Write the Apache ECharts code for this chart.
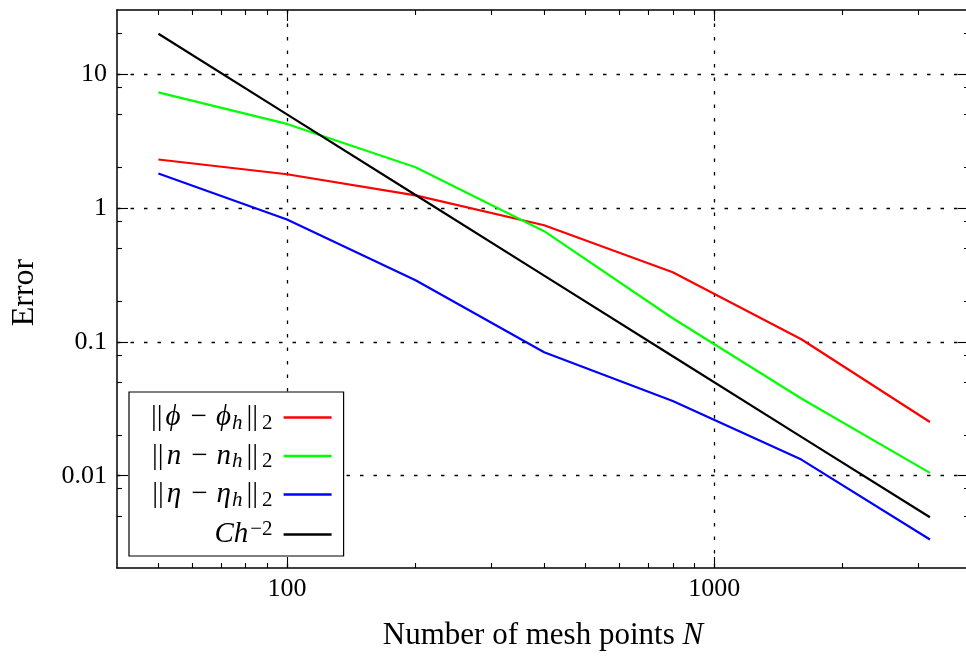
<!DOCTYPE html>
<html>
<head>
<meta charset="utf-8">
<script src="https://cdn.jsdelivr.net/npm/echarts@6/dist/echarts.min.js"></script>
<style>html,body{margin:0;padding:0;background:#fff;overflow:hidden;}#c{width:966px;height:657px;}</style>
</head>
<body>
<div id="c"></div>
<script>
// ---- data ----
const meshPoints = [50, 100, 200, 400, 800, 1600, 3200];
const errPhi  = [2.30, 1.785, 1.24, 0.743, 0.331, 0.1045, 0.0252];
const errN    = [7.30, 4.24, 2.01, 0.67, 0.150, 0.0377, 0.0105];
const errEta  = [1.81, 0.819, 0.288, 0.0836, 0.0362, 0.0132, 0.00334];
const refCh2  = [20, 5, 1.25, 0.3125, 0.078, 0.0195, 0.0049];
const seriesNames = ['phi', 'n', 'eta', 'ref'];
const xMajorTicks = [100, 1000];
const xMinorTicks = [50, 60, 70, 80, 90, 200, 300, 400, 500, 600, 700, 800, 900, 2000, 3000];
const yMajorTicks = [0.01, 0.1, 1, 10];
const yMinorTicks = [0.005, 0.008, 0.02, 0.05, 0.08, 0.2, 0.5, 0.8, 2, 5, 8, 20];
const xRange = [40, 3950];
const yRange = [0.002046, 30.07];

const FONT = 'Liberation Serif, DejaVu Serif, serif';
const legendLabels = {
  phi: '{b|||}{i|ϕ}{op|−}{i|ϕ}{si|h}{b|||}{s|2}',
  n:   '{b|||}{i|n}{op|−}{i|n}{si|h}{b|||}{s|2}',
  eta: '{b|||}{i|η}{op|−}{i|η}{si|h}{b|||}{s|2}',
  ref: '{i|Ch}{sup|−2}'
};
const rich = {
  t:   {fontFamily: FONT, fontSize: 31, lineHeight: 34, color: '#000'},
  ti:  {fontFamily: FONT, fontSize: 31, lineHeight: 34, fontStyle: 'italic', color: '#000'},
  b:   {fontFamily: FONT, fontSize: 29, lineHeight: 32, color: '#000', padding: [0, 3, 0, 3]},
  op:  {fontFamily: FONT, fontSize: 29, lineHeight: 32, color: '#000', padding: [0, 9, 0, 9]},
  i:   {fontFamily: FONT, fontSize: 29, lineHeight: 32, fontStyle: 'italic', color: '#000', padding: [0, 1, 0, 0]},
  si:  {fontFamily: FONT, fontSize: 21, lineHeight: 14, fontStyle: 'italic', verticalAlign: 'bottom', color: '#000', padding: [0, 1, 0, 0]},
  s:   {fontFamily: FONT, fontSize: 21, lineHeight: 14, verticalAlign: 'bottom', color: '#000', padding: [0, 6, 0, 1]},
  sup: {fontFamily: FONT, fontSize: 21, lineHeight: 14, verticalAlign: 'top', color: '#000', padding: [0, 6, 0, 1]}
};

function pairs(ys) { return meshPoints.map((x, k) => [x, ys[k]]); }

const gridLine = {show: true, lineStyle: {color: '#000', width: 1.3, type: [3.5, 10]}};
function xAxisDef(pos, major, withLabels) {
  return {
    type: 'log', gridIndex: 0, position: pos, min: xRange[0], max: xRange[1],
    axisLine: {show: major, onZero: false, lineStyle: {color: '#000', width: 1.5}},
    axisTick: {show: true, inside: true, length: major ? 11 : 5, lineStyle: {color: '#000', width: 1.1},
               customValues: major ? xMajorTicks : xMinorTicks},
    axisLabel: withLabels ? {show: true, customValues: xMajorTicks, color: '#000', fontFamily: FONT, fontSize: 26, margin: 8,
               formatter: v => String(Math.round(v))} : {show: false},
    splitLine: (major && withLabels) ? gridLine : {show: false},
    minorTick: {show: false}, minorSplitLine: {show: false}
  };
}
function yAxisDef(pos, major, withLabels) {
  return {
    type: 'log', gridIndex: 0, position: pos, min: yRange[0], max: yRange[1],
    axisLine: {show: major, onZero: false, lineStyle: {color: '#000', width: 1.5}},
    axisTick: {show: true, inside: true, length: major ? 11 : 5, lineStyle: {color: '#000', width: 1.1},
               customValues: major ? yMajorTicks : yMinorTicks},
    axisLabel: withLabels ? {show: true, customValues: yMajorTicks, color: '#000', fontFamily: FONT, fontSize: 26, margin: 10,
               formatter: v => (v >= 1 ? String(Math.round(v)) : String(+v.toPrecision(1)))} : {show: false},
    splitLine: (major && withLabels) ? gridLine : {show: false},
    minorTick: {show: false}, minorSplitLine: {show: false}
  };
}

const xAxes = [xAxisDef('bottom', true, true), xAxisDef('bottom', false, false), xAxisDef('top', true, false), xAxisDef('top', false, false)];
xAxes[0].name = '{t|Number of mesh points }{ti|N}';
xAxes[0].nameLocation = 'middle';
xAxes[0].nameGap = 51;
xAxes[0].nameTextStyle = {rich: rich};
const yAxes = [yAxisDef('left', true, true), yAxisDef('left', false, false), yAxisDef('right', true, false), yAxisDef('right', false, false)];
yAxes[0].name = 'Error';
yAxes[0].nameLocation = 'middle';
yAxes[0].nameGap = 76;
yAxes[0].nameTextStyle = {color: '#000', fontFamily: FONT, fontSize: 32, padding: [0, 7, 0, 0]};

const colors = {phi: '#ff0000', n: '#00ff00', eta: '#0000ff', ref: '#000000'};
const values = {phi: errPhi, n: errN, eta: errEta, ref: refCh2};

const option = {
  animation: false,
  backgroundColor: '#fff',
  grid: {left: 117, right: -3, top: 10, bottom: 89, containLabel: false, outerBoundsMode: 'none'},
  xAxis: xAxes,
  yAxis: yAxes,
  legend: {
    orient: 'vertical', align: 'right',
    left: 129, top: 392,
    padding: [11, 12, 7, 19],
    itemGap: 8, itemWidth: 48, itemHeight: 2.5, icon: 'rect',
    backgroundColor: '#fff', borderColor: '#000', borderWidth: 1.2, borderRadius: 0,
    data: seriesNames,
    formatter: name => legendLabels[name],
    textStyle: {rich: rich, fontFamily: FONT, fontSize: 29, color: '#000'}
  },
  series: seriesNames.map(nm => ({
    name: nm, type: 'line', xAxisIndex: 0, yAxisIndex: 0,
    data: pairs(values[nm]), showSymbol: false, symbol: 'none',
    lineStyle: {color: colors[nm], width: 2.2}, itemStyle: {color: colors[nm]},
    z: 3
  }))
};
const chart = echarts.init(document.getElementById('c'), null, {renderer: 'canvas'});
chart.setOption(option);
</script>
</body>
</html>
